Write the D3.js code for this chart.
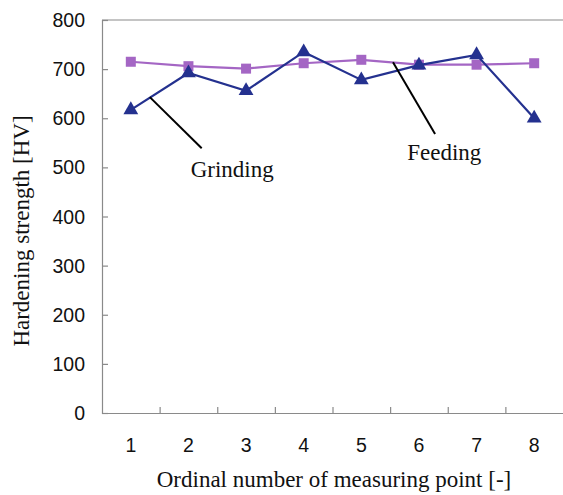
<!DOCTYPE html>
<html>
<head>
<meta charset="utf-8">
<script src="https://cdn.jsdelivr.net/npm/d3@7/dist/d3.min.js"></script>
<style>
  html, body { margin: 0; padding: 0; background: #fff; }
  svg { display: block; }
</style>
</head>
<body>
<svg id="chart" width="563" height="495"></svg>
<script>
// Measuring points along the part
const points = [1, 2, 3, 4, 5, 6, 7, 8];
// Hardening strength [HV] after each operation
const feeding  = [715, 706, 701, 712, 719, 709, 709, 712];
const grinding = [617, 692, 656, 735, 678, 708, 729, 600];
const yTicks = [0, 100, 200, 300, 400, 500, 600, 700, 800];

// Callouts: label placed in data space, with a leader line from the series
const callouts = [
  { text: "Grinding", from: [1.33, 643], to: [2.23, 539], label: [2.76, 480] },
  { text: "Feeding",  from: [5.55, 714], to: [6.28, 568], label: [6.44, 515] }
];

const svg = d3.select("#chart");
const m = { left: 102, top: 20, right: 563, bottom: 413 };

const x = d3.scaleBand().domain(points).range([m.left, m.right]);
const y = d3.scaleLinear().domain([0, 800]).range([m.bottom, m.top]);
// continuous position along the category axis (1-based index at band centre)
const xc = d3.scaleLinear().domain([0.5, 8.5]).range([m.left, m.right]);

const axisColor = "#8a8a8a";
const serif = "'Liberation Serif', 'Times New Roman', serif";
const sans = "'Liberation Sans', Arial, sans-serif";

// Plot frame (top edge)
svg.append("line").attr("x1", m.left).attr("x2", m.right).attr("y1", m.top).attr("y2", m.top)
  .attr("stroke", axisColor).attr("stroke-width", 1.2);

// Y axis with inward ticks
const yAxis = svg.append("g").attr("transform", `translate(${m.left},0)`)
  .call(d3.axisRight(y).tickValues(yTicks).tickSize(6).tickFormat(""));
yAxis.select(".domain").attr("stroke", axisColor).attr("stroke-width", 1.2);
yAxis.selectAll(".tick line").attr("stroke", axisColor).attr("stroke-width", 1.2);

svg.append("g").selectAll("text").data(yTicks).join("text")
  .attr("x", 85).attr("y", d => y(d)).attr("dy", "0.36em")
  .attr("text-anchor", "end")
  .attr("font-family", sans)
  .attr("font-size", 19.5).attr("fill", "#111")
  .text(d => d);

// X axis: ticks between categories, pointing up
const xAxis = svg.append("g").attr("transform", `translate(0,${m.bottom})`)
  .call(d3.axisTop(xc).tickValues(d3.range(1.5, 8.5, 1)).tickSize(6).tickFormat("").tickSizeOuter(0));
xAxis.select(".domain").attr("stroke", axisColor).attr("stroke-width", 1.2);
xAxis.selectAll(".tick line").attr("stroke", axisColor).attr("stroke-width", 1.2);

svg.append("g").selectAll("text").data(points).join("text")
  .attr("x", d => x(d) + x.bandwidth() / 2).attr("y", 452)
  .attr("text-anchor", "middle")
  .attr("font-family", sans)
  .attr("font-size", 19.5).attr("fill", "#111")
  .text(d => d);

// Axis titles
svg.append("text")
  .attr("x", 334).attr("y", 487)
  .attr("text-anchor", "middle")
  .attr("font-family", serif)
  .attr("font-size", 23).attr("fill", "#111")
  .text("Ordinal number of measuring point [-]");

svg.append("text")
  .attr("transform", `translate(29,231) rotate(-90)`)
  .attr("text-anchor", "middle")
  .attr("font-family", serif)
  .attr("font-size", 23).attr("fill", "#111")
  .text("Hardening strength [HV]");

// Series
const cx = d => x(d) + x.bandwidth() / 2;
const line = d3.line().x(d => cx(d[0])).y(d => y(d[1]));

const feedColor = "#a466c4";
const grindColor = "#24318f";

svg.append("path").datum(points.map((p, i) => [p, feeding[i]]))
  .attr("d", line).attr("fill", "none").attr("stroke", feedColor).attr("stroke-width", 2.2);
svg.append("g").selectAll("path").data(points.map((p, i) => [p, feeding[i]])).join("path")
  .attr("transform", d => `translate(${cx(d[0])},${y(d[1])})`)
  .attr("d", d3.symbol(d3.symbolSquare, 100))
  .attr("fill", feedColor);

svg.append("path").datum(points.map((p, i) => [p, grinding[i]]))
  .attr("d", line).attr("fill", "none").attr("stroke", grindColor).attr("stroke-width", 2.2);
svg.append("g").selectAll("path").data(points.map((p, i) => [p, grinding[i]])).join("path")
  .attr("transform", d => `translate(${cx(d[0])},${y(d[1])})`)
  .attr("d", d3.symbol(d3.symbolTriangle, 95))
  .attr("fill", grindColor);

// Callouts
const cg = svg.append("g");
cg.selectAll("line").data(callouts).join("line")
  .attr("x1", d => xc(d.from[0])).attr("y1", d => y(d.from[1]))
  .attr("x2", d => xc(d.to[0])).attr("y2", d => y(d.to[1]))
  .attr("stroke", "#000").attr("stroke-width", 2);
cg.selectAll("text").data(callouts).join("text")
  .attr("x", d => xc(d.label[0])).attr("y", d => y(d.label[1]))
  .attr("text-anchor", "middle")
  .attr("font-family", serif)
  .attr("font-size", 23).attr("fill", "#111")
  .text(d => d.text);
</script>
</body>
</html>
